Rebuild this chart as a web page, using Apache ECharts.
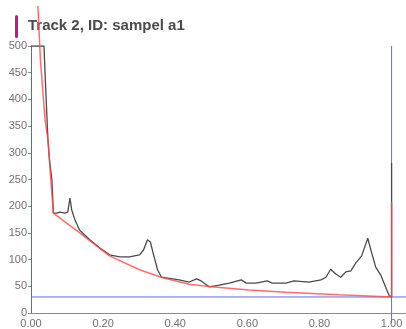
<!DOCTYPE html>
<html><head><meta charset="utf-8">
<script src="https://cdn.jsdelivr.net/npm/echarts@6/dist/echarts.min.js"></script>
<style>html,body{margin:0;padding:0;background:#fff}#c{width:406px;height:329px}</style>
</head><body><div id="c"></div>
<script>
const titleText = "Track 2, ID: sampel a1";
const xTicks = [0, 0.2, 0.4, 0.6, 0.8, 1.0];
const yTicks = [0, 50, 100, 150, 200, 250, 300, 350, 400, 450, 500];
// measured signal (black)
const signalX = [0, 0.036, 0.039, 0.043, 0.047, 0.052, 0.058, 0.062, 0.072, 0.08, 0.094, 0.102, 0.108, 0.11, 0.113, 0.122, 0.135, 0.149, 0.163, 0.19, 0.218, 0.246, 0.273, 0.301, 0.312, 0.323, 0.331, 0.34, 0.351, 0.362, 0.384, 0.411, 0.439, 0.459, 0.472, 0.494, 0.522, 0.55, 0.583, 0.597, 0.624, 0.655, 0.669, 0.688, 0.707, 0.729, 0.771, 0.804, 0.818, 0.831, 0.845, 0.859, 0.873, 0.887, 0.901, 0.917, 0.934, 0.945, 0.956, 0.97, 0.983, 0.994, 1.0, 1.0];
const signalY = [500, 500, 449, 386, 324, 281, 249, 187, 187, 189, 187, 189, 215, 212, 193, 174, 155, 146, 137, 122, 109, 105, 105, 109, 118, 137, 133, 109, 81, 67, 65, 62, 58, 64, 60, 49, 52, 56, 62, 56, 56, 60, 56, 56, 56, 60, 58, 62, 67, 82, 73, 67, 77, 79, 94, 107, 140, 112, 86, 71, 49, 32, 30, 281];
// baseline (red)
const baseX = [0.019, 0.026, 0.039, 0.047, 0.055, 0.062, 0.135, 0.218, 0.301, 0.365, 0.439, 0.5, 0.605, 0.707, 0.854, 1.0, 1.0];
const baseY = [575, 474, 361, 324, 249, 187, 150, 107, 81, 66, 54, 49, 43, 39, 34, 30, 208];
const thresholdY = 30;
const markerX = 1.0;
const xMin = 0, xMax = 1.04, yMin = 0, yMax = 500;

const zip = (a, b) => a.map((v, i) => [v, b[i]]);
const font = '"Liberation Sans", Arial, sans-serif';
// second (hidden) grid with identical scale, taller, so the baseline can run above the plot
const pxPerUnit = 267 / (yMax - yMin);
const grid2Top = 0;
const yMax2 = yMax + (46 - grid2Top) / pxPerUnit;
const yMin2 = yMin - 10 / pxPerUnit;

const chart = echarts.init(document.getElementById('c'), null, {renderer: 'canvas'});
chart.setOption({
  animation: false,
  backgroundColor: '#fff',
  graphic: [
    {type: 'rect', z: 0, shape: {x: 15, y: 15, width: 3, height: 23, r: 1.5}, style: {fill: '#c8148c'}},
    {type: 'text', z: 0, left: 28, top: 18, style: {text: titleText, font: 'bold 15px ' + font, fill: '#4a4a4a'}}
  ],
  grid: [
    {left: 31, top: 46, height: 267, width: 376.5, containLabel: false},
    {left: 31, top: grid2Top, height: 267 + 46 - grid2Top + 10, width: 376.5, containLabel: false}
  ],
  xAxis: [{
    type: 'value', min: xMin, max: xMax, interval: 0.2, gridIndex: 0,
    axisLine: {show: true, lineStyle: {color: '#8c8c8c', width: 1}},
    axisTick: {show: false},
    splitLine: {show: false},
    axisLabel: {
      color: '#707070', fontSize: 11, fontFamily: font, margin: 5,
      showMaxLabel: false,
      formatter: v => xTicks.some(t => Math.abs(t - v) < 1e-6) ? v.toFixed(2) : ''
    }
  }, {
    type: 'value', min: xMin, max: xMax, gridIndex: 1, show: false
  }],
  yAxis: [{
    type: 'value', min: yMin, max: yMax, interval: 50, gridIndex: 0,
    axisLine: {show: true, lineStyle: {color: '#5a5aff', width: 1}},
    axisTick: {show: true, length: 3, lineStyle: {color: '#8c8c8c'}},
    splitLine: {show: false},
    axisLabel: {
      color: '#707070', fontSize: 11, fontFamily: font, margin: 4,
      formatter: v => yTicks.includes(v) ? String(v) : ''
    }
  }, {
    type: 'value', min: yMin2, max: yMax2, gridIndex: 1, show: false
  }],
  series: [
    {
      type: 'line', data: [[xMin, thresholdY], [xMax, thresholdY]], symbol: 'none', z: 5,
      xAxisIndex: 0, yAxisIndex: 0,
      lineStyle: {color: '#6464ff', width: 1}
    },
    {
      type: 'line', data: [[markerX, yMin2], [markerX, yMax]], symbol: 'none', z: 5,
      xAxisIndex: 1, yAxisIndex: 1,
      lineStyle: {color: '#6464ff', width: 1}
    },
    {
      type: 'line', data: zip(signalX, signalY), symbol: 'none', z: 6,
      xAxisIndex: 0, yAxisIndex: 0,
      lineStyle: {color: '#4a4a4a', width: 1.3}
    },
    {
      type: 'line', data: zip(baseX, baseY), symbol: 'none', z: 7,
      xAxisIndex: 1, yAxisIndex: 1,
      lineStyle: {color: '#ff4a4a', width: 1.5, opacity: 0.8}
    }
  ]
});
</script></body></html>
